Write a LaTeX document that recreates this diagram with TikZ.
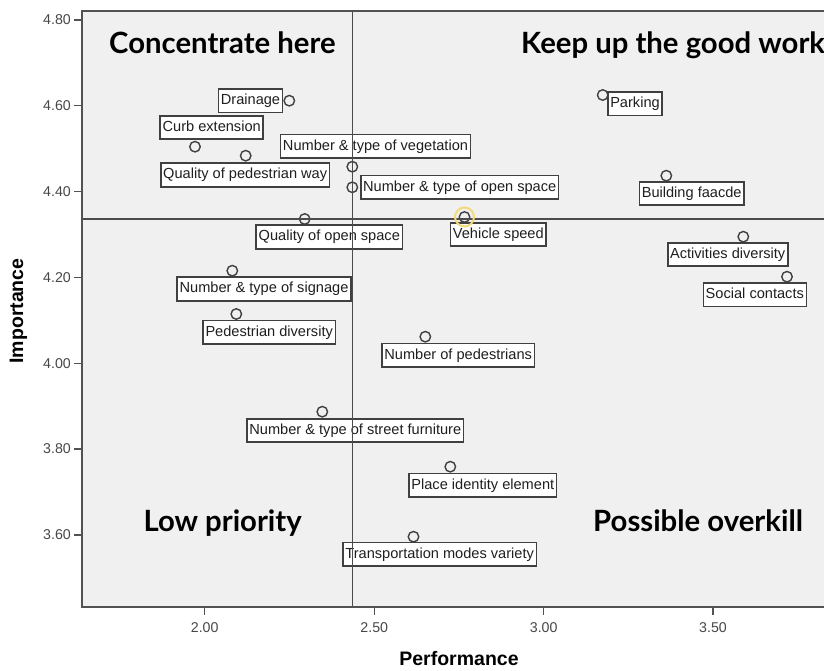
\documentclass[tikz,border=0pt]{standalone}
\usepackage{fontspec}
\setmainfont{Liberation Sans}
\newfontfamily\latofont{Lato}
\begin{document}
\begin{tikzpicture}[x=1pt,y=-1pt,
  lbl/.style={draw=black!75,fill=white,line width=1.6pt,inner xsep=2.4pt,inner ysep=0pt,
    text height=11pt,text depth=3.2pt,minimum height=23.5pt,font=\fontsize{14.6}{16}\selectfont,text=black!88},
  pt/.style={circle,draw=black!75,line width=1.4pt,minimum size=10.5pt,inner sep=0pt},
  qtitle/.style={anchor=base west,inner sep=0pt,font=\latofont\bfseries\fontsize{29.3}{32}\selectfont},
  ticklab/.style={font=\fontsize{14.2}{16}\selectfont,text=black!72,inner sep=0pt},
  axtitle/.style={font=\bfseries\fontsize{19.5}{22}\selectfont,inner sep=0pt},
  refline/.style={draw=black!70,line width=1.4pt},
  frame/.style={draw=black!68,line width=1.5pt}]
\useasboundingbox (0,0) rectangle (824,671);
\clip (0,0) rectangle (824,671);
% plot area
\fill[black!6] (82,11) rectangle (830,607);
% labels
\node[lbl] (lDrain) at (250.5,100.9) {Drainage};
\node[lbl] (lCurb) at (211.7,127.5) {Curb extension};
\node[lbl] (lQpw) at (245.2,175) {Quality of pedestrian way};
\node[lbl] (lVeg) at (375.5,146.3) {Number \& type of vegetation};
\node[lbl] (lOpen) at (459.7,187.2) {Number \& type of open space};
\node[lbl] (lQos) at (329.3,237) {Quality of open space};
\node[lbl] (lSign) at (264,289) {Number \& type of signage};
\node[lbl] (lPed) at (269.2,332.3) {Pedestrian diversity};
\node[lbl] (lNped) at (458.2,355.3) {Number of pedestrians};
\node[lbl] (lFurn) at (355.3,430.5) {Number \& type of street furniture};
\node[lbl] (lPlace) at (482.8,485.3) {Place identity element};
\node[lbl] (lTrans) at (439.7,554.3) {Transportation modes variety};
\node[lbl] (lPark) at (635,103.8) {Parking};
\node[lbl] (lBuild) at (691.7,193.5) {Building faacde};
\node[lbl] (lVeh) at (498.3,234.5) {Vehicle speed};
\node[lbl] (lAct) at (727.7,254.5) {Activities diversity};
\node[lbl] (lSoc) at (754.8,294.7) {Social contacts};
% points
\node[pt] (pDrain) at (289.3,100.7) {};
\node[pt] (pCurb) at (195,146.7) {};
\node[pt] (pQpw) at (245.7,155.7) {};
\node[pt] (pVeg) at (352.3,166.7) {};
\node[pt] (pOpen) at (352.3,187.3) {};
\node[pt] (pQos) at (304.7,219) {};
\node[pt] (pSign) at (232.3,270.7) {};
\node[pt] (pPed) at (236.3,314) {};
\node[pt] (pNped) at (425.3,336.7) {};
\node[pt] (pFurn) at (322.3,411.7) {};
\node[pt] (pPlace) at (450.3,466.7) {};
\node[pt] (pTrans) at (413.5,536.7) {};
\node[pt] (pPark) at (602.7,95) {};
\node[pt] (pBuild) at (666.3,175.7) {};
\node[pt] (pVeh) at (464.5,217) {};
\node[pt] (pAct) at (743.3,236.7) {};
\node[pt] (pSoc) at (787,276.7) {};
% reference lines
\coordinate (vTop) at (352.7,11);
\coordinate (vBot) at (352.7,607);
\coordinate (hL) at (82,219);
\coordinate (hR) at (830,219);
\draw[refline] (vTop) -- (vBot);
\draw[refline] (hL) -- (hR);
% highlight
\node[circle,draw={rgb,255:red,244;green,218;blue,120},line width=2pt,minimum size=19pt,inner sep=0pt] (halo) at (pVeh) {};
% frame
\draw[frame] (830,11) -- (82,11) -- (82,607) -- (830,607);
% y ticks
\foreach \v/\yy in {4.80/20,4.60/105.3,4.40/191.3,4.20/277.3,4.00/363.3,3.80/449,3.60/535}{
  \draw[frame] (74,\yy) -- (82,\yy);
  \node[ticklab,anchor=east] at (71,\yy) {\v};
}
% x ticks
\foreach \v/\xx in {2.00/204.7,2.50/374.3,3.00/543.7,3.50/713}{
  \draw[frame] (\xx,607) -- (\xx,615);
  \node[ticklab] at (\xx,627.5) {\v};
}
% axis titles
\node[axtitle,rotate=90] (ytitle) at (18.5,311) {Importance};
\node[axtitle] (xtitle) at (459,659) {Performance};
% quadrant titles
\node[qtitle] (q1) at (109,54) {Concentrate here};
\node[qtitle] (q2) at (521,54) {Keep up the good work};
\node[qtitle] (q3) at (143.3,531) {Low priority};
\node[qtitle] (q4) at (593,531) {Possible overkill};
\end{tikzpicture}
\end{document}
